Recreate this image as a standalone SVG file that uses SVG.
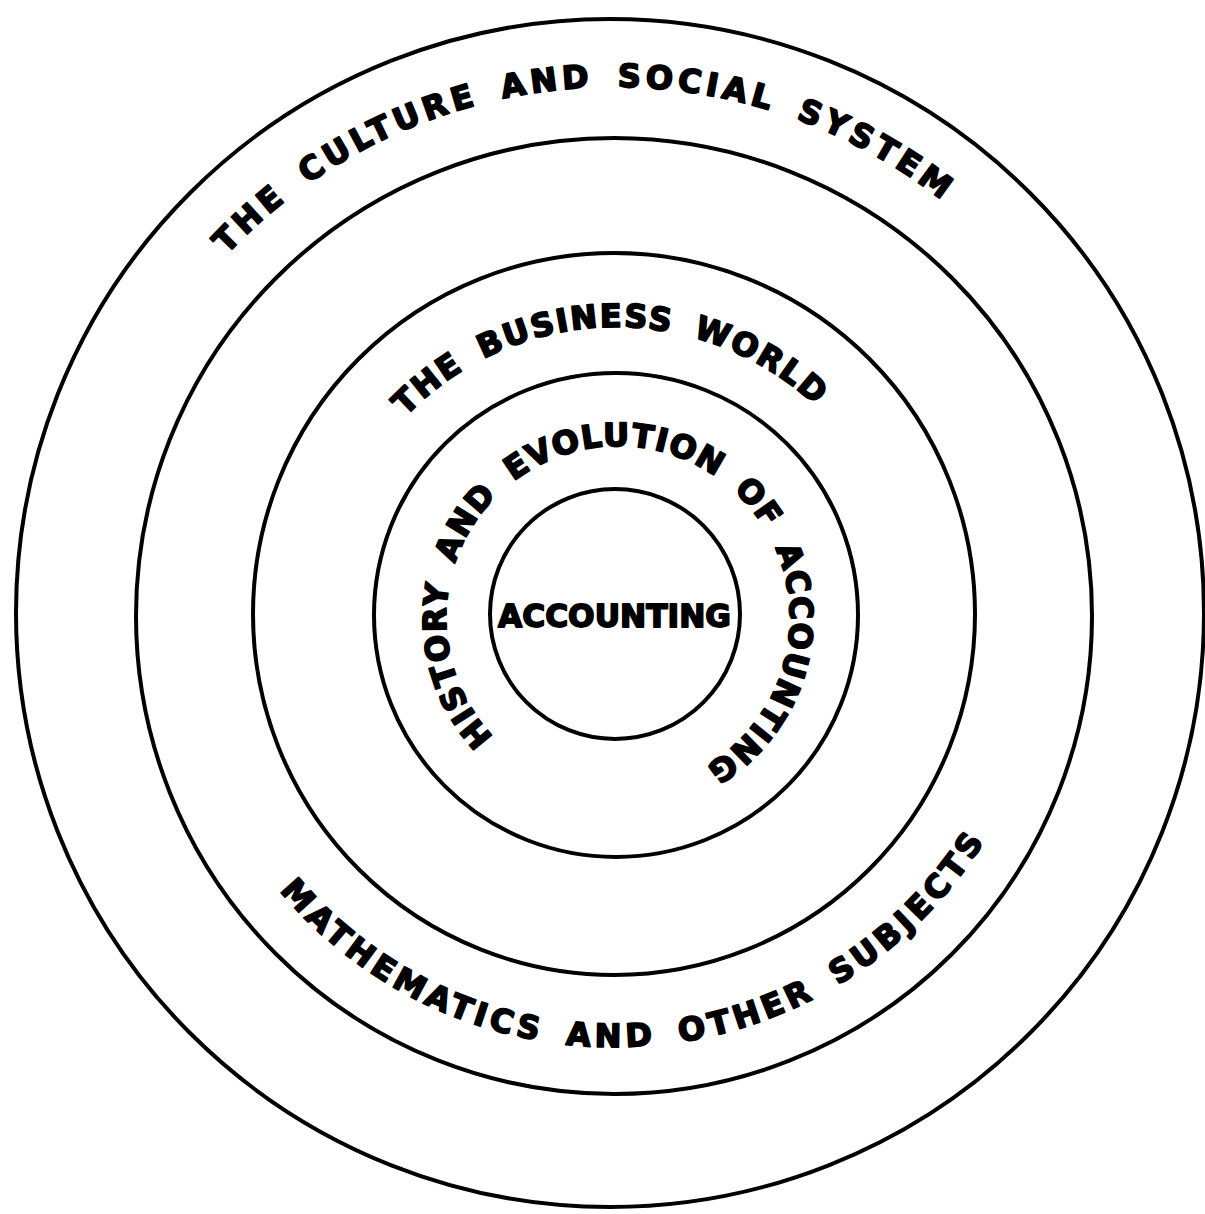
<svg xmlns="http://www.w3.org/2000/svg" xmlns:xlink="http://www.w3.org/1999/xlink" width="1205" height="1214" viewBox="0 0 1205 1214">
  <style>
    .ring { fill: none; stroke: #000; stroke-width: 4; }
    .lbl { font-family: "DejaVu Sans", "Liberation Sans", sans-serif; font-weight: bold; font-size: 32px; fill: #000; stroke: #000; stroke-width: 1.8; stroke-linejoin: round; word-spacing: 8px; }
  </style>
  <defs>
    <path id="p-culture" d="M226.6,254.8 A531,531 0 0 1 1073.9,352.5"/>
    <path id="p-business" d="M405.6,416.5 A292,292 0 0 1 868.9,473"/>
    <path id="p-history" d="M493.6,736.8 A172,172 0 1 1 790,618 A172,172 0 0 1 647.9,787.4"/>
    <path id="p-math" d="M279.5,890.7 A436,436 0 0 0 1023.7,760.1"/>
  </defs>
  <rect width="1205" height="1214" fill="#fff"/>

  <g id="culture-social-system">
    <circle class="ring" cx="610" cy="613" r="594"/>
    <text class="lbl"><textPath xlink:href="#p-culture" href="#p-culture" textLength="787" lengthAdjust="spacing">THE CULTURE AND SOCIAL SYSTEM</textPath></text>
  </g>

  <g id="mathematics-other-subjects">
    <circle class="ring" cx="614" cy="616" r="478"/>
    <text class="lbl"><textPath xlink:href="#p-math" href="#p-math" textLength="823" lengthAdjust="spacing">MATHEMATICS AND OTHER SUBJECTS</textPath></text>
  </g>

  <g id="business-world">
    <circle class="ring" cx="614" cy="614" r="361"/>
    <text class="lbl"><textPath xlink:href="#p-business" href="#p-business" textLength="454" lengthAdjust="spacing">THE BUSINESS WORLD</textPath></text>
  </g>

  <g id="history-evolution">
    <circle class="ring" cx="616" cy="615" r="242"/>
    <text class="lbl"><textPath xlink:href="#p-history" href="#p-history" textLength="849" lengthAdjust="spacing">HISTORY AND EVOLUTION OF ACCOUNTING</textPath></text>
  </g>

  <g id="accounting">
    <circle class="ring" cx="615" cy="614" r="125"/>
    <text class="lbl" x="498" y="627" textLength="233" lengthAdjust="spacingAndGlyphs">ACCOUNTING</text>
  </g>

  <g id="connectors"></g>
</svg>
